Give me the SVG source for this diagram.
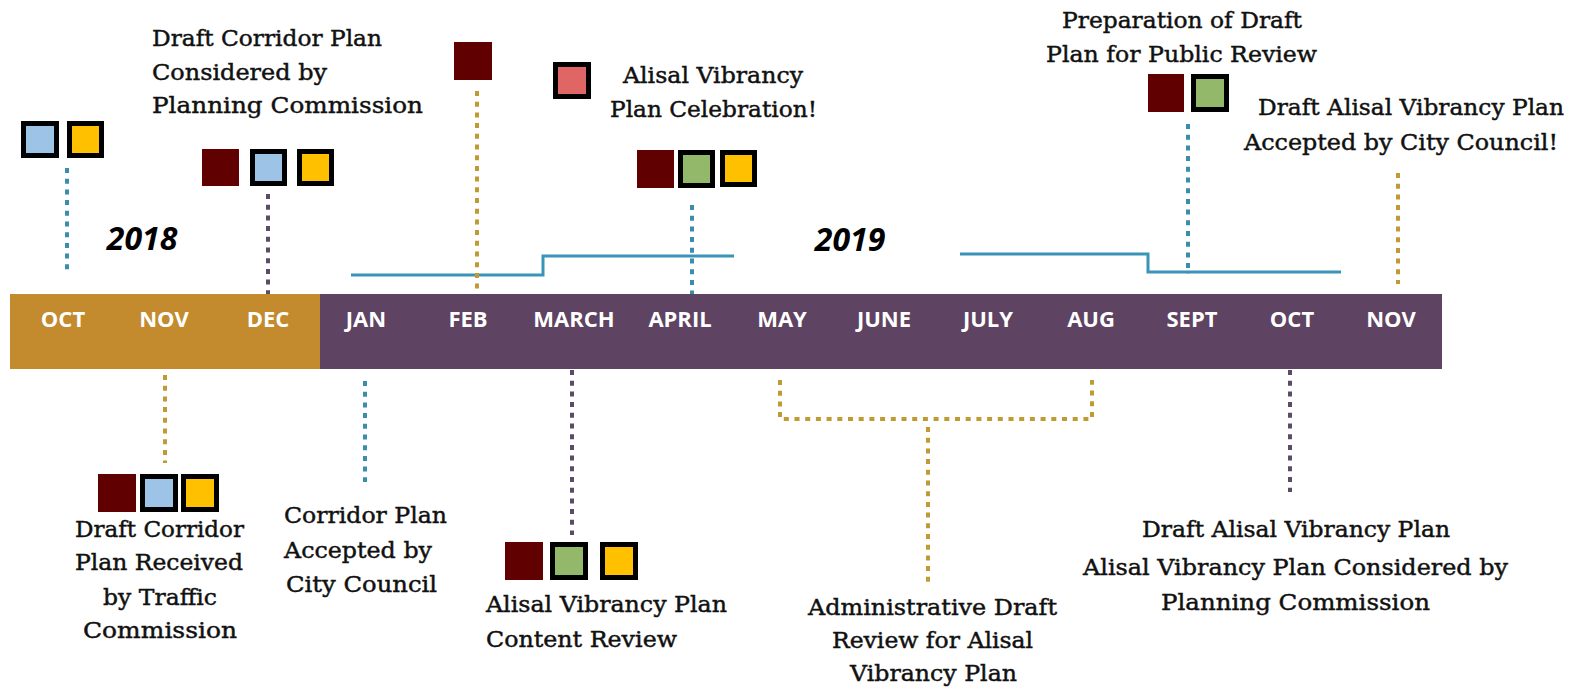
<svg xmlns="http://www.w3.org/2000/svg" width="1579" height="691" viewBox="0 0 1579 691">
<defs>
<style>
.lbl{font-family:"DejaVu Serif","Liberation Serif",serif;font-size:23px;fill:#111;stroke:#111;stroke-width:0.45px}
.mon{font-family:"Open Sans","Liberation Sans",sans-serif;font-weight:700;font-size:22px;fill:#fff;text-anchor:middle}
.year{font-family:"Open Sans","Liberation Sans",sans-serif;font-weight:700;font-style:italic;font-size:32px;fill:#000;text-anchor:middle}
.dr{fill:#600000}
.bx{stroke:#000;stroke-width:5}
.blue{fill:#9DC3E6}
.yel{fill:#FFC000}
.grn{fill:#93B86A}
.pink{fill:#E06666}
.dot{fill:none;stroke-width:4;stroke-dasharray:5 5.7}
.teal{stroke:#3A8DAD}
.gold{stroke:#C29A34}
.purp{stroke:#5C4A66}
.step{fill:none;stroke:#3A93B8;stroke-width:3}
</style>
</defs>
<rect width="1579" height="691" fill="#fff"/>

<g id="timeline">
<rect x="10" y="294" width="310" height="75" fill="#C38A2E"/>
<rect x="320" y="294" width="1122" height="75" fill="#5F4363"/>
<text class="mon" x="63" y="327">OCT</text>
<text class="mon" x="164" y="327">NOV</text>
<text class="mon" x="268" y="327">DEC</text>
<text class="mon" x="366" y="327">JAN</text>
<text class="mon" x="468" y="327">FEB</text>
<text class="mon" x="574" y="327">MARCH</text>
<text class="mon" x="680" y="327">APRIL</text>
<text class="mon" x="782" y="327">MAY</text>
<text class="mon" x="884" y="327">JUNE</text>
<text class="mon" x="988" y="327">JULY</text>
<text class="mon" x="1091" y="327">AUG</text>
<text class="mon" x="1192" y="327">SEPT</text>
<text class="mon" x="1292" y="327">OCT</text>
<text class="mon" x="1391" y="327">NOV</text>
<text class="year" x="142" y="250">2018</text>
<text class="year" x="850" y="251">2019</text>
</g>

<g id="connectors">
<path class="step" d="M351,275 H543 V256 H734"/>
<path class="step" d="M960,254 H1148 V272 H1341"/>
<path class="dot teal" d="M67,168 V274"/>
<path class="dot purp" d="M268,194 V294"/>
<path class="dot gold" d="M477,91 V294"/>
<path class="dot teal" d="M692,205 V294"/>
<path class="dot teal" d="M1188,124 V274"/>
<path class="dot gold" d="M1398,173 V284"/>
<path class="dot gold" d="M165,375 V463"/>
<path class="dot teal" d="M365,381 V482"/>
<path class="dot purp" d="M572,370 V535"/>
<path class="dot gold" d="M780,380 V419 H1092 V380"/>
<path class="dot gold" d="M928,427 V583"/>
<path class="dot purp" d="M1290,370 V492"/>
</g>

<g id="oct-2018">
<rect class="bx blue" x="23.5" y="123.5" width="33" height="32"/>
<rect class="bx yel" x="69.5" y="123.5" width="32" height="32"/>
</g>

<g id="dec-2018">
<rect class="dr" x="202" y="149" width="37" height="37"/>
<rect class="bx blue" x="252.5" y="151.5" width="32" height="32"/>
<rect class="bx yel" x="299.5" y="151.5" width="32" height="32"/>
<text class="lbl" x="152" y="46" textLength="230" lengthAdjust="spacingAndGlyphs">Draft Corridor Plan</text>
<text class="lbl" x="152" y="80" textLength="175" lengthAdjust="spacingAndGlyphs">Considered by</text>
<text class="lbl" x="152" y="113" textLength="271" lengthAdjust="spacingAndGlyphs">Planning Commission</text>
</g>

<g id="feb-2019">
<rect class="dr" x="454" y="42" width="38" height="38"/>
</g>

<g id="celebration">
<rect class="bx pink" x="555.5" y="64.5" width="33" height="32"/>
<text class="lbl" x="623" y="83" textLength="180" lengthAdjust="spacingAndGlyphs">Alisal Vibrancy</text>
<text class="lbl" x="610" y="117" textLength="207" lengthAdjust="spacingAndGlyphs">Plan Celebration!</text>
</g>

<g id="april-2019">
<rect class="dr" x="637" y="150" width="37" height="38"/>
<rect class="bx grn" x="680.5" y="152.5" width="32" height="33"/>
<rect class="bx yel" x="722.5" y="152.5" width="32" height="32"/>
</g>

<g id="sept-2019">
<rect class="dr" x="1148" y="74" width="36" height="38"/>
<rect class="bx grn" x="1193.5" y="76.5" width="33" height="33"/>
<text class="lbl" x="1062" y="28" textLength="240" lengthAdjust="spacingAndGlyphs">Preparation of Draft</text>
<text class="lbl" x="1046" y="62" textLength="271" lengthAdjust="spacingAndGlyphs">Plan for Public Review</text>
</g>

<g id="nov-2019">
<text class="lbl" x="1258" y="115" textLength="306" lengthAdjust="spacingAndGlyphs">Draft Alisal Vibrancy Plan</text>
<text class="lbl" x="1244" y="150" textLength="314" lengthAdjust="spacingAndGlyphs">Accepted by City Council!</text>
</g>

<g id="nov-2018">
<rect class="dr" x="98" y="474" width="38" height="38"/>
<rect class="bx blue" x="142.5" y="476.5" width="33" height="33"/>
<rect class="bx yel" x="183.5" y="476.5" width="33" height="33"/>
<text class="lbl" x="75" y="537" textLength="169" lengthAdjust="spacingAndGlyphs">Draft Corridor</text>
<text class="lbl" x="75" y="570" textLength="168" lengthAdjust="spacingAndGlyphs">Plan Received</text>
<text class="lbl" x="103" y="605" textLength="114" lengthAdjust="spacingAndGlyphs">by Traffic</text>
<text class="lbl" x="83" y="638" textLength="154" lengthAdjust="spacingAndGlyphs">Commission</text>
</g>

<g id="jan-2019">
<text class="lbl" x="284" y="523" textLength="163" lengthAdjust="spacingAndGlyphs">Corridor Plan</text>
<text class="lbl" x="284" y="558" textLength="148" lengthAdjust="spacingAndGlyphs">Accepted by</text>
<text class="lbl" x="286" y="592" textLength="151" lengthAdjust="spacingAndGlyphs">City Council</text>
</g>

<g id="march-2019">
<rect class="dr" x="505" y="542" width="38" height="38"/>
<rect class="bx grn" x="552.5" y="544.5" width="33" height="33"/>
<rect class="bx yel" x="602.5" y="544.5" width="33" height="33"/>
<text class="lbl" x="486" y="612" textLength="241" lengthAdjust="spacingAndGlyphs">Alisal Vibrancy Plan</text>
<text class="lbl" x="486" y="647" textLength="191" lengthAdjust="spacingAndGlyphs">Content Review</text>
</g>

<g id="may-aug-2019">
<text class="lbl" x="808" y="615" textLength="249" lengthAdjust="spacingAndGlyphs">Administrative Draft</text>
<text class="lbl" x="832" y="648" textLength="201" lengthAdjust="spacingAndGlyphs">Review for Alisal</text>
<text class="lbl" x="850" y="681" textLength="167" lengthAdjust="spacingAndGlyphs">Vibrancy Plan</text>
</g>

<g id="oct-2019">
<text class="lbl" x="1142" y="537" textLength="308" lengthAdjust="spacingAndGlyphs">Draft Alisal Vibrancy Plan</text>
<text class="lbl" x="1083" y="575" textLength="425" lengthAdjust="spacingAndGlyphs">Alisal Vibrancy Plan Considered by</text>
<text class="lbl" x="1161" y="610" textLength="269" lengthAdjust="spacingAndGlyphs">Planning Commission</text>
</g>
</svg>
